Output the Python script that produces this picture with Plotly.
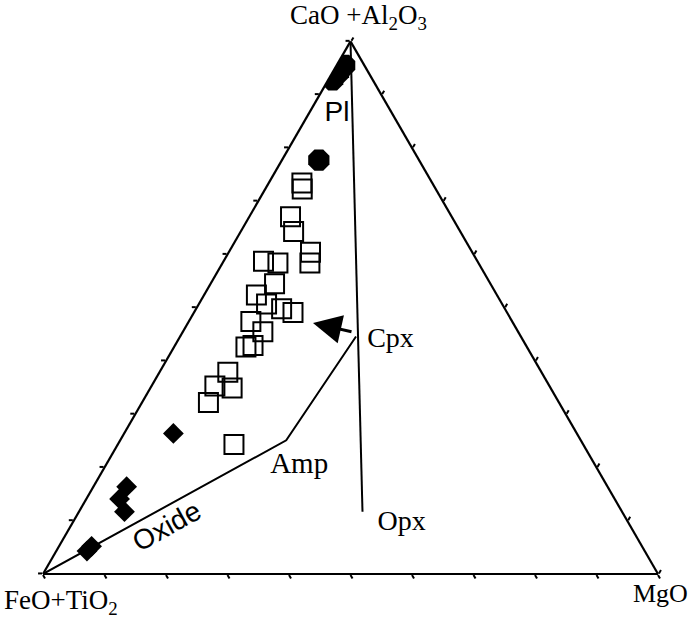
import plotly.graph_objects as go

# Ternary components: a = CaO+Al2O3 (top), b = FeO+TiO2 (left), c = MgO (right)
# Open squares
sq_a = [0.734, 0.723, 0.671, 0.643, 0.604, 0.584, 0.587, 0.584, 0.545, 0.524, 0.507,
        0.491, 0.498, 0.474, 0.455, 0.426, 0.429, 0.379, 0.353, 0.349, 0.322, 0.243]
sq_b = [0.212, 0.217, 0.262, 0.271, 0.263, 0.274, 0.348, 0.326, 0.351, 0.391, 0.383,
        0.348, 0.363, 0.425, 0.415, 0.457, 0.444, 0.510, 0.544, 0.518, 0.570, 0.568]
sq_c = [0.054, 0.060, 0.067, 0.086, 0.133, 0.142, 0.065, 0.090, 0.104, 0.085, 0.110,
        0.161, 0.139, 0.101, 0.130, 0.117, 0.127, 0.111, 0.103, 0.133, 0.108, 0.189]

# Plagioclase (filled octagons)
pl_a = [0.955, 0.941, 0.928, 0.777]
pl_b = [0.032, 0.049, 0.065, 0.163]
pl_c = [0.013, 0.010, 0.007, 0.060]

# Oxides (filled diamonds)
ox_a = [0.264, 0.164, 0.141, 0.117, 0.052, 0.043]
ox_b = [0.656, 0.782, 0.805, 0.809, 0.895, 0.907]
ox_c = [0.080, 0.054, 0.054, 0.074, 0.053, 0.050]

# Reference lines
opx_line_a = [1.0, 0.117]
opx_line_b = [0.0, 0.422]
opx_line_c = [0.0, 0.461]

trend_a = [0.446, 0.251, 0.0]   # Cpx -> Amp -> FeO+TiO2
trend_b = [0.268, 0.479, 1.0]
trend_c = [0.286, 0.270, 0.0]

# Mineral labels
lab_text = ["Pl", "Cpx", "Amp", "Opx"]
lab_a = [0.864, 0.440, 0.203, 0.096]
lab_b = [0.090, 0.215, 0.482, 0.369]
lab_c = [0.046, 0.345, 0.315, 0.535]
lab_font = ["Liberation Sans", "Liberation Serif", "Liberation Serif", "Liberation Serif"]
lab_size = [28, 28, 29, 28]

W, H = 690, 618

fig = go.Figure()

line_style = dict(color="black", width=2)
fig.add_trace(go.Scatterternary(a=opx_line_a, b=opx_line_b, c=opx_line_c,
                                mode="lines", line=line_style, showlegend=False))
fig.add_trace(go.Scatterternary(a=trend_a, b=trend_b, c=trend_c,
                                mode="lines", line=line_style, showlegend=False))

fig.add_trace(go.Scatterternary(a=sq_a, b=sq_b, c=sq_c, mode="markers",
                                marker=dict(symbol="square-open", size=19, color="black",
                                            line=dict(width=2, color="black")),
                                showlegend=False))
fig.add_trace(go.Scatterternary(a=pl_a, b=pl_b, c=pl_c, mode="markers",
                                marker=dict(symbol="octagon", size=23, color="black"),
                                showlegend=False))
fig.add_trace(go.Scatterternary(a=ox_a, b=ox_b, c=ox_c, mode="markers",
                                marker=dict(symbol="diamond", size=16, color="black"),
                                showlegend=False))

for t, a, b, c, f, s in zip(lab_text, lab_a, lab_b, lab_c, lab_font, lab_size):
    fig.add_trace(go.Scatterternary(a=[a], b=[b], c=[c], mode="text", text=[t],
                                    textfont=dict(family=f, size=s, color="black"),
                                    showlegend=False))

axis_style = dict(showgrid=False, showticklabels=False, ticks="outside", ticklen=4,
                  tickwidth=1.5, tickcolor="black", dtick=0.1,
                  linecolor="black", linewidth=2.2, title=dict(text=""))

fig.update_layout(
    width=W, height=H,
    margin=dict(l=0, r=0, t=0, b=0),
    paper_bgcolor="white",
    ternary=dict(
        sum=1,
        bgcolor="white",
        domain=dict(x=[43 / W, 658 / W], y=[44 / H, (44 + 532.6) / H]),
        aaxis=axis_style, baxis=axis_style, caxis=axis_style,
    ),
    showlegend=False,
)

serif = dict(family="Liberation Serif", size=27, color="black")
fig.add_annotation(x=358 / W, y=1 - 17 / H, xref="paper", yref="paper",
                   xanchor="center", yanchor="middle",
                   text="CaO +Al<sub>2</sub>O<sub>3</sub>", showarrow=False, font=serif)
fig.add_annotation(x=61 / W, y=1 - 602 / H, xref="paper", yref="paper",
                   xanchor="center", yanchor="middle",
                   text="FeO+TiO<sub>2</sub>", showarrow=False, font=serif)
fig.add_annotation(x=660 / W, y=1 - 593 / H, xref="paper", yref="paper",
                   xanchor="center", yanchor="middle",
                   text="MgO", showarrow=False,
                   font=dict(family="Liberation Serif", size=26, color="black"))
fig.add_annotation(x=166 / W, y=1 - 526 / H, xref="paper", yref="paper",
                   xanchor="center", yanchor="middle",
                   text="Oxide", showarrow=False, textangle=-29,
                   font=dict(family="Liberation Sans", size=28, color="black"))
# arrow pointing at the square field
fig.add_annotation(x=313 / W, y=1 - 323 / H, xref="paper", yref="paper",
                   ax=40, ay=9, text="", showarrow=True, arrowhead=2,
                   arrowsize=1.9, arrowwidth=3, arrowcolor="black", standoff=0)

fig.write_html("out.html", config={"displayModeBar": False},
               post_script="document.body.style.margin='0';")
